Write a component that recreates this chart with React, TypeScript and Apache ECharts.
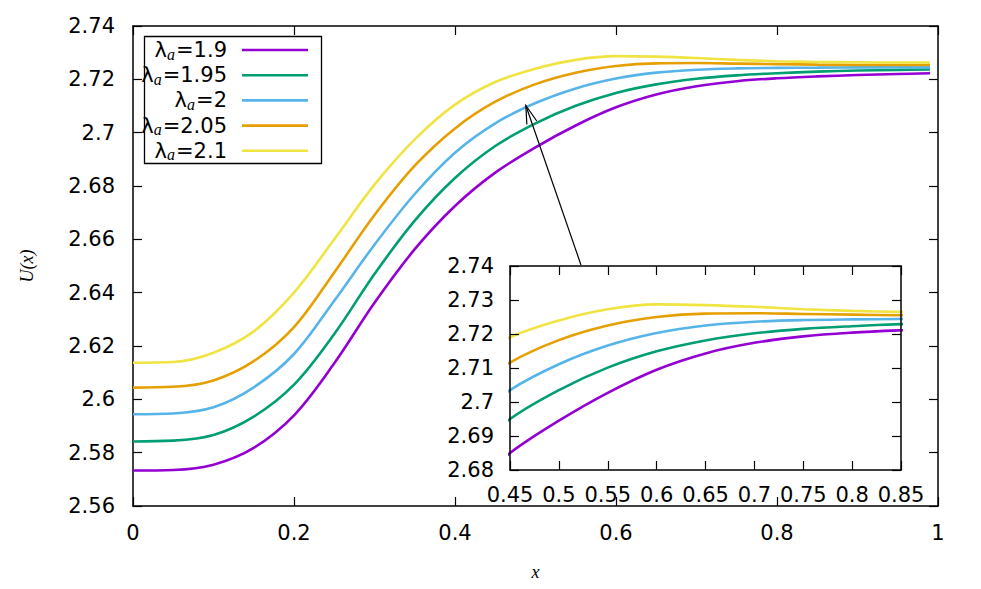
import React, { useEffect, useRef } from 'react';
import * as echarts from 'echarts';

const X = [0, 0.05, 0.1, 0.15, 0.2, 0.25, 0.3, 0.35, 0.4, 0.45, 0.5, 0.55, 0.6, 0.65, 0.7, 0.75, 0.8, 0.85, 0.9, 0.95, 0.99];

const LAMBDAS = ['1.9', '1.95', '2', '2.05', '2.1'];

const U_190 = [2.5733, 2.5735, 2.5755, 2.5818, 2.5940, 2.6135, 2.6362, 2.6563, 2.6725, 2.6850, 2.6945, 2.7027, 2.7095, 2.7143, 2.7174, 2.7193, 2.7204, 2.7211, 2.7216, 2.7220, 2.7223];
const U_195 = [2.5842, 2.5845, 2.5866, 2.5935, 2.6055, 2.6245, 2.6470, 2.6670, 2.6830, 2.6950, 2.7035, 2.7101, 2.7149, 2.7181, 2.7202, 2.7215, 2.7223, 2.7229, 2.7233, 2.7235, 2.7237];
const U_200 = [2.5944, 2.5947, 2.5970, 2.6045, 2.6170, 2.6370, 2.6580, 2.6770, 2.6925, 2.7035, 2.7111, 2.7166, 2.7203, 2.7225, 2.7236, 2.7241, 2.7243, 2.7244, 2.7245, 2.7245, 2.7245];
const U_205 = [2.6044, 2.6047, 2.6071, 2.6143, 2.6271, 2.6476, 2.6691, 2.6876, 2.7016, 2.7116, 2.7182, 2.7225, 2.7250, 2.7260, 2.7261, 2.7259, 2.7257, 2.7255, 2.7254, 2.7254, 2.7254];
const U_210 = [2.6137, 2.6140, 2.6175, 2.6255, 2.6400, 2.6600, 2.6805, 2.6975, 2.7105, 2.7190, 2.7240, 2.7273, 2.7287, 2.7285, 2.7280, 2.7273, 2.7268, 2.7265, 2.7264, 2.7263, 2.7263];

const SERIES_VALUES = [U_190, U_195, U_200, U_205, U_210];
const COLORS = ['#9400d3', '#009e73', '#56b4e9', '#e69f00', '#f0e442'];

// axis ranges [min, max, interval]
const MAIN_X = [0, 1, 0.2];
const MAIN_Y = [2.56, 2.74, 0.02];
const INSET_X = [0.45, 0.85, 0.05];
const INSET_Y = [2.68, 2.74, 0.01];

// arrow (data coordinates of main plot)
const ARROW_FROM = [0.5565, 2.6504];
const ARROW_TO = [0.488, 2.7102];

const TICK_FONT = 'DejaVu Sans';

function axis(
  range: number[],
  gridIndex: number,
  position: string,
  showLabel: boolean,
  margin: number,
  extra: any = {}
) {
  return {
    type: 'value',
    gridIndex,
    position,
    min: range[0],
    max: range[1],
    interval: range[2],
    axisLine: { show: true, onZero: false, lineStyle: { color: '#000', width: 1.5 } },
    axisTick: { show: true, inside: true, length: 9, lineStyle: { color: '#000', width: 1.2 } },
    axisLabel: {
      show: showLabel,
      color: '#000',
      fontSize: 21,
      fontFamily: TICK_FONT,
      margin,
      hideOverlap: false,
      showMinLabel: true,
      showMaxLabel: true,
    },
    splitLine: { show: false },
    ...extra,
  };
}

export default function App() {
  const ref = useRef<HTMLDivElement>(null);

  useEffect(() => {
    if (!ref.current) return;
    const chart = echarts.init(ref.current, undefined, { renderer: 'svg' });

    const series: any[] = [];
    SERIES_VALUES.forEach((vals, i) => {
      const data = X.map((x, j) => [x, vals[j]]);
      series.push({
        type: 'line',
        name: 'main' + LAMBDAS[i],
        xAxisIndex: 0,
        yAxisIndex: 0,
        data,
        smooth: 0.35,
        showSymbol: false,
        symbol: 'none',
        lineStyle: { color: COLORS[i], width: 2.6 },
        z: 3,
      });
      series.push({
        type: 'line',
        name: 'inset' + LAMBDAS[i],
        xAxisIndex: 2,
        yAxisIndex: 2,
        data,
        smooth: 0.35,
        showSymbol: false,
        symbol: 'none',
        clip: true,
        lineStyle: { color: COLORS[i], width: 2.6 },
        z: 10,
      });
    });

    const option: any = {
      animation: false,
      backgroundColor: '#fff',
      grid: [
        { left: 133, top: 26, width: 805, height: 480, show: false, containLabel: false },
        { left: 510, top: 266, width: 391, height: 204, show: true, backgroundColor: '#fff', borderWidth: 0, containLabel: false, z: 5 },
      ],
      xAxis: [
        axis(MAIN_X, 0, 'bottom', true, 16, {
          name: 'x',
          nameLocation: 'middle',
          nameGap: 57,
          nameTextStyle: { fontFamily: 'Liberation Serif', fontStyle: 'italic', fontSize: 18, color: '#000' },
        }),
        axis(MAIN_X, 0, 'top', false, 8),
        axis(INSET_X, 1, 'bottom', true, 14, { z: 12 }),
        axis(INSET_X, 1, 'top', false, 8, { z: 12 }),
      ],
      yAxis: [
        axis(MAIN_Y, 0, 'left', true, 18, {
          name: 'U(x)',
          nameLocation: 'middle',
          nameGap: 97,
          nameRotate: 90,
          nameTextStyle: { fontFamily: 'Liberation Serif', fontStyle: 'italic', fontSize: 18, color: '#000' },
        }),
        axis(MAIN_Y, 0, 'right', false, 8),
        axis(INSET_Y, 1, 'left', true, 16, { z: 12 }),
        axis(INSET_Y, 1, 'right', false, 8, { z: 12 }),
      ],
      series,
    };

    chart.setOption(option);

    // legend (gnuplot style: text right-aligned, then line sample)
    const graphic: any[] = [];
    const boxLeft = 144.5, boxTop = 36.5, boxW = 177, boxH = 127;
    graphic.push({
      type: 'rect',
      id: 'legendBox',
      z: 100,
      shape: { x: boxLeft, y: boxTop, width: boxW, height: boxH },
      style: { fill: '#fff', stroke: '#000', lineWidth: 1.3 },
    });
    LAMBDAS.forEach((lam, i) => {
      const cy = 50 + i * 25.2;
      graphic.push({
        type: 'text',
        id: 'legendText' + i,
        z: 101,
        x: 227,
        y: cy,
        style: {
          text: '{l|λ}{s|a}{t|=' + lam + '}',
          align: 'right',
          verticalAlign: 'middle',
          rich: {
            l: { fontFamily: TICK_FONT, fontSize: 21, fill: '#000', lineHeight: 20 },
            s: { fontFamily: 'Liberation Serif', fontStyle: 'italic', fontSize: 16, fill: '#000', lineHeight: 10, padding: [8, 1, 0, 0] },
            t: { fontFamily: TICK_FONT, fontSize: 21, fill: '#000', lineHeight: 20 },
          },
        },
      });
      graphic.push({
        type: 'line',
        id: 'legendLine' + i,
        z: 101,
        shape: { x1: 242, y1: cy, x2: 308, y2: cy },
        style: { stroke: COLORS[i], lineWidth: 2.6 },
      });
    });

    // arrow
    const p1 = chart.convertToPixel({ xAxisIndex: 0, yAxisIndex: 0 } as any, ARROW_FROM) as number[];
    const p2 = chart.convertToPixel({ xAxisIndex: 0, yAxisIndex: 0 } as any, ARROW_TO) as number[];
    if (p1 && p2) {
      const dx = p1[0] - p2[0];
      const dy = p1[1] - p2[1];
      const ang = Math.atan2(dy, dx);
      const hl = 19;
      const ha = (16 * Math.PI) / 180;
      const b1 = [p2[0] + hl * Math.cos(ang + ha), p2[1] + hl * Math.sin(ang + ha)];
      const b2 = [p2[0] + hl * Math.cos(ang - ha), p2[1] + hl * Math.sin(ang - ha)];
      graphic.push({
        type: 'line',
        id: 'arrowLine',
        z: 100,
        shape: { x1: p1[0], y1: p1[1], x2: p2[0], y2: p2[1] },
        style: { stroke: '#000', lineWidth: 1.2 },
      });
      graphic.push({
        type: 'polyline',
        id: 'arrowHead',
        z: 100,
        shape: { points: [b1, p2, b2] },
        style: { stroke: '#000', lineWidth: 1.2, fill: 'none' },
      });
    }

    chart.setOption({ graphic });

    return () => {
      chart.dispose();
    };
  }, []);

  return (
    <div
      ref={ref}
      style={{ position: 'fixed', left: 0, top: 0, width: 981, height: 589, background: '#fff' }}
    />
  );
}
